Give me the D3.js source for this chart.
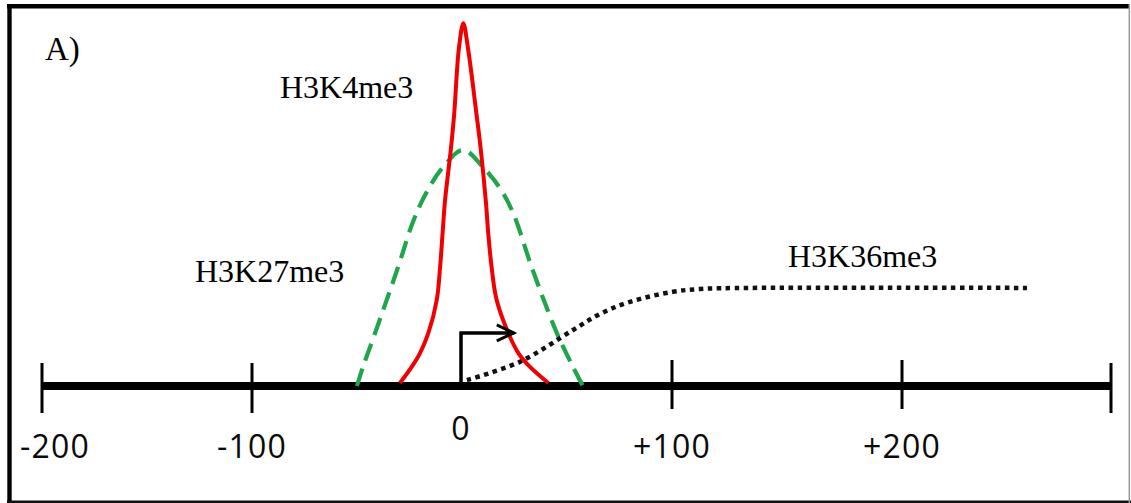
<!DOCTYPE html>
<html>
<head>
<meta charset="utf-8">
<script src="https://cdn.jsdelivr.net/npm/d3@7"></script>
<style>
  html, body { margin: 0; padding: 0; background: #fff; }
  svg { display: block; }
</style>
</head>
<body>
<svg id="chart" width="1131" height="503"></svg>
<script>
// ---- data (x in bp relative to TSS, y in arbitrary signal units 0..100) ----
const tickValues = [-200, -100, 0, 100, 200, 300];
const tickLabels = ["-200", "-100", "0", "+100", "+200", ""];

const h3k4me3X = [-29.2, -23.6, -19.6, -15.6, -11.6, -10.0, -8.8, -7.7, -4.8, -3.3, -1.0, 1.1, 3.3, 7.4, 9.3, 11.8, 12.9, 14.5, 16.9, 22.4, 27.2, 32.7, 41.4];
const h3k4me3Y = [0.8, 5.2, 9.0, 14.5, 23.5, 32.5, 41.8, 50.3, 65.0, 74.0, 92.3, 99.1, 92.3, 74.0, 65.0, 50.3, 41.8, 32.5, 23.5, 14.5, 9.0, 5.2, 0.8];

const h3k27me3X = [-49.8, -46.9, -41.1, -30.1, -23.0, -16.7, -8.6, 0.9, 10.4, 19.0, 25.1, 33.5, 45.4, 53.1, 57.8];
const h3k27me3Y = [0, 5.2, 14.5, 32.5, 44.8, 52.7, 59.8, 64.5, 59.8, 53.6, 46.7, 32.5, 14.5, 5.2, 0];

const h3k36me3X = [2.8, 27.9, 53.1, 65.9, 80.1, 100, 112.2, 133.9, 259.8];
const h3k36me3Y = [1.6, 6.6, 15.3, 19.7, 23.0, 25.7, 26.5, 26.8, 26.8];

const seriesNames = ["H3K4me3", "H3K27me3", "H3K36me3"];
const panelLabel = "A)";
const tssArrowLength = 25;   // bp
const tssArrowHeight = 14.5; // signal units

// ---- drawing ----
const svg = d3.select("#chart");

// piecewise scale to follow the hand-drawn axis spacing
const x = d3.scaleLinear().domain(tickValues).range([42, 252, 461, 672, 902, 1111]);
const y = d3.scaleLinear().domain([0, 100]).range([386, 20]);

// frame
svg.append("line").attr("x1", 7).attr("x2", 1130).attr("y1", 6.2).attr("y2", 6.2)
  .attr("stroke", "#000").attr("stroke-width", 4.4);
svg.append("line").attr("x1", 9.5).attr("x2", 9.5).attr("y1", 4).attr("y2", 503)
  .attr("stroke", "#000").attr("stroke-width", 4.4);
svg.append("line").attr("x1", 7).attr("x2", 1131).attr("y1", 501.8).attr("y2", 501.8)
  .attr("stroke", "#111").attr("stroke-width", 2.6);
svg.append("line").attr("x1", 1129.3).attr("x2", 1129.3).attr("y1", 4).attr("y2", 503)
  .attr("stroke", "#9a9a9a").attr("stroke-width", 1.5);

// axis baseline
svg.append("line")
  .attr("x1", x(tickValues[0])).attr("x2", x(tickValues[tickValues.length - 1]))
  .attr("y1", y(0)).attr("y2", y(0))
  .attr("stroke", "#000").attr("stroke-width", 8);

// ticks (no tick at 0; the TSS arrow sits there)
svg.selectAll("line.tick")
  .data(tickValues.filter(v => v !== 0))
  .join("line")
  .attr("class", "tick")
  .attr("x1", d => x(d)).attr("x2", d => x(d))
  .attr("y1", d => (d === 100 || d === 200) ? 360 : 363)
  .attr("y2", d => (d === 100 || d === 200) ? 409 : 413)
  .attr("stroke", "#000").attr("stroke-width", 3);

// tick labels
const tl = svg.selectAll("text.tl")
  .data(tickValues.map((v, i) => ({ v, label: tickLabels[i] })).filter(d => d.label !== ""))
  .join("text")
  .attr("class", "tl")
  .attr("x", d => x(d.v))
  .attr("y", d => d.v === 0 ? 440 : 458)
  .attr("text-anchor", "middle")
  .attr("font-family", "'Open Sans', sans-serif")
  .attr("font-size", 32)
  .attr("letter-spacing", 1.2)
  .attr("fill", "#0a0a0a")
  .text(d => d.label);
// keep the first label inside the frame
tl.each(function(d) {
  const w = this.getComputedTextLength();
  const left = x(d.v) - w / 2;
  if (left < 20) d3.select(this).attr("x", 20 + w / 2);
});

const line = d3.line()
  .x(d => x(d[0])).y(d => y(d[1]))
  .curve(d3.curveCatmullRom.alpha(0.5));

// H3K27me3 green dashed
svg.append("path")
  .datum(d3.zip(h3k27me3X, h3k27me3Y))
  .attr("d", line)
  .attr("fill", "none").attr("stroke", "#1fa64b").attr("stroke-width", 4.2)
  .attr("stroke-dasharray", "18,9");

// H3K36me3 black dotted
svg.append("path")
  .datum(d3.zip(h3k36me3X, h3k36me3Y))
  .attr("d", line)
  .attr("fill", "none").attr("stroke", "#111").attr("stroke-width", 4.5)
  .attr("stroke-dasharray", "4.5,4.5");

// H3K4me3 red solid
svg.append("path")
  .datum(d3.zip(h3k4me3X, h3k4me3Y))
  .attr("d", line)
  .attr("fill", "none").attr("stroke", "#f00000").attr("stroke-width", 4)
  .attr("stroke-linejoin", "round");

// TSS arrow
const tx = x(0), ty = y(tssArrowHeight), ex = x(tssArrowLength);
svg.append("path")
  .attr("d", `M${tx},${y(0)} V${ty} H${ex}`)
  .attr("fill", "none").attr("stroke", "#000").attr("stroke-width", 3.5);
svg.append("path")
  .attr("d", `M${ex - 17},${ty - 8} L${ex},${ty} L${ex - 17},${ty + 8}`)
  .attr("fill", "none").attr("stroke", "#000").attr("stroke-width", 3);

// text labels
const serif = "'Liberation Serif', 'Times New Roman', serif";
svg.append("text").attr("x", 45).attr("y", 60)
  .attr("font-family", serif).attr("font-size", 33).text(panelLabel);
const labelPos = [[280, 98], [195, 282], [788, 267]];
seriesNames.forEach((n, i) => {
  svg.append("text").attr("x", labelPos[i][0]).attr("y", labelPos[i][1])
    .attr("font-family", serif).attr("font-size", 32).text(n);
});
</script>
</body>
</html>
